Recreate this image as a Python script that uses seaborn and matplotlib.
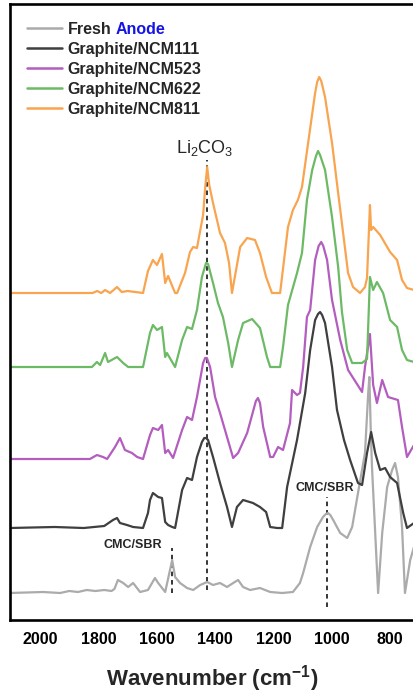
import matplotlib
matplotlib.use("Agg")
import matplotlib.pyplot as plt
from matplotlib.ticker import MultipleLocator
import pandas as pd
import seaborn as sns

# FTIR spectra of graphite anodes (stacked, arbitrary units)
samples = ["Fresh", "Graphite/NCM111", "Graphite/NCM523",
           "Graphite/NCM622", "Graphite/NCM811"]
colors = ["#ABABAB", "#3F3F3F", "#B35DBE", "#6DBA66", "#F9A44E"]
offsets = [27, 92, 161, 253, 327]

fresh_wn = [2103, 1990, 1931, 1900, 1870, 1840, 1810, 1780, 1755, 1745,
            1733, 1715, 1698, 1681, 1657, 1630, 1606, 1595, 1571, 1547,
            1537, 1520, 1496, 1475, 1451, 1427, 1407, 1383, 1359, 1338,
            1321, 1304, 1280, 1246, 1211, 1170, 1133, 1109, 1098, 1074,
            1050, 1030, 1020, 1013, 1005, 995, 971, 947, 930, 910, 886, 875,
            871, 866, 862, 851, 841, 827, 810, 793, 783, 773,
            759, 749, 731, 718]
fresh_abs = [0, 1, 0, 2, 1, 3, 2, 3, 2, 4,
             13, 10, 6, 10, 1, 3, 15, 10, 1, 33,
             16, 10, 5, 3, 8, 11, 8, 10, 6, 10,
             13, 6, 3, 5, 1, 0, 1, 10, 20, 46,
             66, 76, 79, 80, 78, 73, 60, 55, 66, 100, 140, 200,
             216, 160, 126, 60, 0, 60, 106, 123, 130, 116,
             66, 0, 33, 46]

n111_wn = [2103, 1950, 1850, 1780, 1750, 1736, 1726, 1702, 1681, 1647,
           1630, 1623, 1613, 1595, 1582, 1571, 1561, 1547, 1537, 1513,
           1496, 1479, 1462, 1445, 1437, 1431, 1424, 1407, 1383, 1359, 1342,
           1325, 1304, 1270, 1246, 1225, 1211, 1187, 1170, 1153, 1119,
           1091, 1074, 1057, 1047, 1040, 1033, 1023, 999, 982, 958, 937, 910,
           896, 879, 865, 851, 834, 817, 800, 776, 755, 742,
           718]
n111_abs = [0, 1, 0, 2, 8, 10, 5, 3, 1, 0,
            15, 28, 35, 31, 30, 6, 3, 1, 0, 38,
            50, 48, 71, 86, 90, 90, 88, 71, 45, 21, 1,
            21, 28, 25, 21, 16, 1, 0, 0, 41, 88,
            135, 178, 208, 214, 216, 213, 205, 161, 118, 88, 68, 45,
            43, 75, 96, 75, 58, 60, 51, 45, 15, 0,
            5]

n523_wn = [2103, 1829, 1805, 1784, 1770, 1743, 1726, 1709, 1685, 1667,
           1647, 1623, 1613, 1595, 1582, 1571, 1561, 1544, 1513, 1496,
           1479, 1462, 1441, 1434, 1428, 1417, 1400, 1383, 1359, 1338, 1321,
           1290, 1260, 1253, 1246, 1235, 1211, 1201, 1184, 1167, 1143, 1136,
           1119, 1109, 1098, 1085, 1074, 1057, 1045, 1036, 1029, 1016, 999,
           971, 944, 896, 886, 869, 858, 845, 827, 807, 773, 759, 742,
           718]
n523_abs = [0, 0, 4, 2, 0, 12, 21, 9, 6, 2,
            0, 24, 31, 29, 34, 6, 9, 1, 29, 42,
            39, 62, 96, 101, 101, 92, 62, 46, 22, 1, 6,
            26, 58, 61, 56, 32, 2, 2, 12, 9, 36, 69,
            64, 66, 92, 142, 149, 199, 213, 217, 213, 199, 159,
            119, 89, 67, 92, 125, 74, 56, 79, 62, 59, 32, 2,
            14]

n622_wn = [2103, 1822, 1805, 1794, 1777, 1767, 1736, 1715, 1698, 1647,
           1623, 1613, 1599, 1582, 1571, 1565, 1537, 1513, 1496, 1479,
           1462, 1445, 1431, 1424, 1407, 1390, 1373, 1355, 1342, 1321, 1304,
           1273, 1246, 1222, 1211, 1177, 1167, 1150, 1119, 1102, 1085,
           1067, 1054, 1047, 1040, 1023, 999, 978, 965, 947, 930, 896, 879,
           869, 858, 845, 824, 800, 776, 759, 742, 718]
n622_abs = [0, 0, 5, 2, 14, 5, 10, 4, 0, 0,
            34, 42, 37, 40, 10, 14, 0, 27, 40, 38,
            57, 90, 104, 103, 84, 64, 50, 24, 0, 27, 44,
            48, 39, 10, 0, 0, 20, 62, 94, 114, 167,
            197, 211, 216, 212, 197, 150, 100, 55, 17, 4, 4, 8,
            90, 77, 85, 74, 47, 40, 17, 7, 5]

n811_wn = [2103, 1820, 1804, 1790, 1777, 1760, 1736, 1720, 1700, 1647,
           1630, 1613, 1599, 1582, 1571, 1561, 1537, 1530, 1503, 1486,
           1475, 1462, 1441, 1434, 1427, 1420, 1407, 1383, 1366, 1352,
           1342, 1314, 1290, 1263, 1246, 1225, 1205, 1177, 1150, 1133,
           1116, 1102, 1081, 1057, 1050, 1043, 1036, 1023, 999, 978, 961,
           944, 927, 903, 886, 879, 869, 865, 858, 834, 800, 776,
           759, 742, 718]
n811_abs = [0, 0, 2, 0, 3, 0, 6, 1, 2, 0,
            22, 33, 28, 39, 10, 17, 0, 0, 20, 41,
            46, 45, 78, 105, 126, 108, 90, 60, 50, 30,
            0, 46, 55, 53, 40, 16, 0, 0, 66, 83,
            93, 106, 150, 200, 211, 216, 212, 196, 150, 100, 60,
            20, 6, 0, 6, 15, 88, 63, 66, 58, 41, 33,
            13, 5, 3]

spectra_wn = [fresh_wn, n111_wn, n523_wn, n622_wn, n811_wn]
spectra_abs = [fresh_abs, n111_abs, n523_abs, n622_abs, n811_abs]

# Marker lines: (wavenumber, y start, y end)
li2co3_line = (1427, 30, 460)
cmc_left_line = (1547, 27, 72)
cmc_right_line = (1016, 13, 123)

sns.set_theme(style="white")
plt.rcParams["font.family"] = ["Liberation Sans", "DejaVu Sans"]
plt.rcParams["mathtext.fontset"] = "custom"
plt.rcParams["mathtext.rm"] = "Liberation Sans"
plt.rcParams["mathtext.it"] = "Liberation Sans:italic"
plt.rcParams["mathtext.bf"] = "Liberation Sans:bold"

fig = plt.figure(figsize=(4.14, 6.94), dpi=100)
ax = fig.add_axes([10 / 414, 74 / 694, 404 / 414, 616 / 694])

for name, wn, ab, off, col in zip(samples, spectra_wn, spectra_abs, offsets, colors):
    df = pd.DataFrame({"wavenumber": wn, "absorbance": [a + off for a in ab]})
    sns.lineplot(data=df, x="wavenumber", y="absorbance", color=col,
                 linewidth=1.6, estimator=None, sort=False, ax=ax, label=name)

for (x0, y0, y1) in (li2co3_line, cmc_left_line, cmc_right_line):
    ax.plot([x0, x0], [y0, y1], color="black", linestyle=(0, (3, 2.5)),
            linewidth=1.1, zorder=1)

ax.text(1437, 462, r"Li$_2$CO$_3$", ha="center", va="bottom", fontsize=13)
ax.text(1681, 75, "CMC/SBR", ha="center", va="center", fontsize=9,
        fontweight="bold")
ax.text(1023, 132, "CMC/SBR", ha="center", va="center", fontsize=9,
        fontweight="bold")

ax.set_xlim(2103, 718)
ax.set_ylim(0, 616)
ax.set_yticks([])
ax.xaxis.set_major_locator(MultipleLocator(200))
ax.xaxis.set_minor_locator(MultipleLocator(100))
ax.tick_params(axis="x", which="major", direction="in", length=9.5,
               width=1.5, pad=9, labelsize=11.5, colors="black")
ax.tick_params(axis="x", which="minor", direction="in", length=5, width=1.5)
for lab in ax.get_xticklabels():
    lab.set_fontweight("bold")
ax.set_xlabel(r"Wavenumber (cm$^{\mathbf{-1}}$)", fontsize=16,
              fontweight="bold", labelpad=11)
ax.set_ylabel("")

for side in ("left", "top", "bottom"):
    ax.spines[side].set_linewidth(1.9)
    ax.spines[side].set_color("black")
ax.spines["right"].set_visible(False)

leg = ax.legend(loc="upper left", bbox_to_anchor=(0.042, 0.971),
                frameon=False, fontsize=11.5, handlelength=2.2,
                handletextpad=0.35, labelspacing=0.31, borderpad=0,
                borderaxespad=0)
for t in leg.get_texts():
    t.set_fontweight("bold")
for ln in leg.get_lines():
    ln.set_linewidth(1.8)

# the fresh sample label continues with a blue "Anode"
fig.canvas.draw()
bb = leg.get_texts()[0].get_window_extent()
fx, fy = fig.transFigure.inverted().transform((bb.x1 + 4.5, bb.y0))
fig.text(fx, fy, "Anode", ha="left", va="bottom", fontsize=11.5,
         fontweight="bold", color="#1414E6")

fig.savefig("out.png", dpi=100)
